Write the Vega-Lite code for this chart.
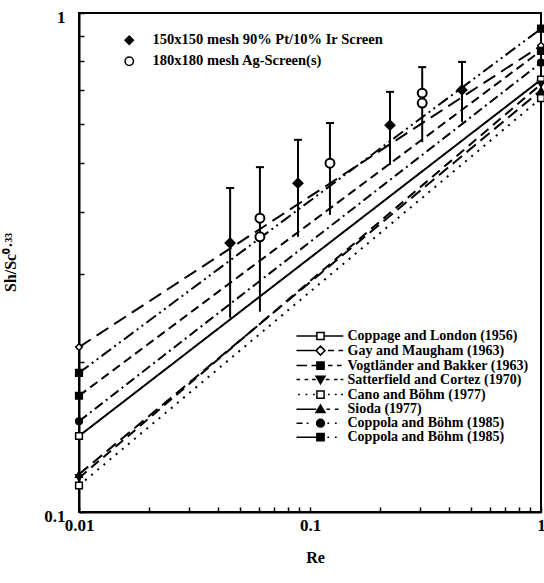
{
  "$schema": "https://vega.github.io/schema/vega-lite/v6.json",
  "width": 462,
  "height": 499,
  "autosize": "none",
  "padding": {"left": 79, "top": 13, "right": 3, "bottom": 71},
  "background": "white",
  "config": {
    "font": "Liberation Serif",
    "view": {"stroke": "black", "strokeWidth": 2},
    "axis": {"grid": false, "domainColor": "black", "domainWidth": 2, "tickColor": "black", "tickWidth": 1.5, "labelColor": "black", "labelFont": "Liberation Serif", "labelFontWeight": "bold", "labelFontSize": 17, "titleFont": "Liberation Serif", "titleFontWeight": "bold", "titleFontSize": 16, "titleColor": "black"},
    "legend": {"labelFont": "Liberation Serif", "labelFontWeight": "bold", "labelFontSize": 14.5, "labelColor": "black", "labelLimit": 400, "padding": 0}
  },
  "datasets": {
    "lines": [
      {"s": "Coppage and London (1956)", "Re": 0.01, "v": 0.142},
      {"s": "Coppage and London (1956)", "Re": 1, "v": 0.735},
      {"s": "Gay and Maugham (1963)", "Re": 0.01, "v": 0.214},
      {"s": "Gay and Maugham (1963)", "Re": 1, "v": 0.86},
      {"s": "Vogtländer and Bakker (1963)", "Re": 0.01, "v": 0.171},
      {"s": "Vogtländer and Bakker (1963)", "Re": 1, "v": 0.84},
      {"s": "Satterfield and Cortez (1970)", "Re": 0.01, "v": 0.117},
      {"s": "Satterfield and Cortez (1970)", "Re": 1, "v": 0.72},
      {"s": "Cano and Böhm (1977)", "Re": 0.01, "v": 0.113},
      {"s": "Cano and Böhm (1977)", "Re": 1, "v": 0.675},
      {"s": "Sioda (1977)", "Re": 0.01, "v": 0.119},
      {"s": "Sioda (1977)", "Re": 1, "v": 0.70},
      {"s": "Coppola and Böhm (1985)#1", "Re": 0.01, "v": 0.152},
      {"s": "Coppola and Böhm (1985)#1", "Re": 1, "v": 0.795},
      {"s": "Coppola and Böhm (1985)#2", "Re": 0.01, "v": 0.19},
      {"s": "Coppola and Böhm (1985)#2", "Re": 1, "v": 0.93}
    ],
    "bars": [
      {"Re": 0.0451, "lo": 0.245, "hi": 0.446},
      {"Re": 0.0607, "lo": 0.252, "hi": 0.491},
      {"Re": 0.0887, "lo": 0.356, "hi": 0.557},
      {"Re": 0.122, "lo": 0.394, "hi": 0.602},
      {"Re": 0.222, "lo": 0.496, "hi": 0.695},
      {"Re": 0.306, "lo": 0.551, "hi": 0.779},
      {"Re": 0.455, "lo": 0.605, "hi": 0.798}
    ],
    "pts": [
      {"screen": "150x150 mesh 90% Pt/10% Ir Screen", "Re": 0.0451, "v": 0.346},
      {"screen": "150x150 mesh 90% Pt/10% Ir Screen", "Re": 0.0887, "v": 0.456},
      {"screen": "150x150 mesh 90% Pt/10% Ir Screen", "Re": 0.222, "v": 0.596},
      {"screen": "150x150 mesh 90% Pt/10% Ir Screen", "Re": 0.455, "v": 0.701},
      {"screen": "180x180 mesh Ag-Screen(s)", "Re": 0.0607, "v": 0.388},
      {"screen": "180x180 mesh Ag-Screen(s)", "Re": 0.0607, "v": 0.356},
      {"screen": "180x180 mesh Ag-Screen(s)", "Re": 0.122, "v": 0.5},
      {"screen": "180x180 mesh Ag-Screen(s)", "Re": 0.306, "v": 0.691},
      {"screen": "180x180 mesh Ag-Screen(s)", "Re": 0.306, "v": 0.66}
    ]
  },
  "layer": [
    {
      "data": {"name": "lines"},
      "mark": {"type": "line", "color": "black", "strokeWidth": 2},
      "encoding": {
        "x": {"field": "Re", "type": "quantitative", "scale": {"type": "log", "domain": [0.01, 1], "nice": false}, "axis": {"title": "Re", "values": [0.01, 0.02, 0.03, 0.04, 0.05, 0.06, 0.07, 0.08, 0.09, 0.1, 0.2, 0.3, 0.4, 0.5, 0.6, 0.7, 0.8, 0.9, 1], "labelExpr": "datum.value == 0.01 ? '0.01' : datum.value == 0.1 ? '0.1' : datum.value == 1 ? '1' : ''", "tickSize": -5, "labelPadding": 10, "labelFlush": false, "labelOverlap": false, "labelBound": false, "titleX": 236, "titleY": 45, "titleBaseline": "middle"}},
        "y": {"field": "v", "type": "quantitative", "scale": {"type": "log", "domain": [0.1, 1], "nice": false}, "axis": {"title": "Sh/Sc⁰·³³", "values": [0.1, 0.2, 0.3, 0.4, 0.5, 0.6, 0.7, 0.8, 0.9, 1], "labelExpr": "datum.value == 0.1 ? '0.1' : datum.value == 1 ? '1' : ''", "tickSize": -5, "labelPadding": 19, "labelOffset": 4, "labelFlush": false, "labelOverlap": false, "labelBound": false, "titleAngle": -90, "titleX": -69, "titleY": 249, "titleAlign": "center", "titleBaseline": "middle"}},
        "strokeDash": {"field": "s", "type": "nominal", "scale": {"domain": ["Coppage and London (1956)", "Gay and Maugham (1963)", "Vogtländer and Bakker (1963)", "Satterfield and Cortez (1970)", "Cano and Böhm (1977)", "Sioda (1977)", "Coppola and Böhm (1985)#1", "Coppola and Böhm (1985)#2"], "range": [[1, 0], [14, 7], [9, 5], [10, 6], [2, 6], [12, 6], [10, 4, 2, 4], [12, 4, 2, 4, 2, 4]]}, "legend": null}
      }
    },
    {
      "data": {"name": "lines"},
      "mark": {"type": "point", "stroke": "black", "strokeWidth": 2, "size": 36, "opacity": 0},
      "encoding": {
        "x": {"field": "Re", "type": "quantitative", "scale": {"type": "log", "domain": [0.01, 1], "nice": false}, "axis": {"title": "Re", "values": [0.01, 0.02, 0.03, 0.04, 0.05, 0.06, 0.07, 0.08, 0.09, 0.1, 0.2, 0.3, 0.4, 0.5, 0.6, 0.7, 0.8, 0.9, 1], "labelExpr": "datum.value == 0.01 ? '0.01' : datum.value == 0.1 ? '0.1' : datum.value == 1 ? '1' : ''", "tickSize": -5, "labelPadding": 10, "labelFlush": false, "labelOverlap": false, "labelBound": false, "titleX": 236, "titleY": 45, "titleBaseline": "middle"}},
        "y": {"field": "v", "type": "quantitative", "scale": {"type": "log", "domain": [0.1, 1], "nice": false}, "axis": {"title": "Sh/Sc⁰·³³", "values": [0.1, 0.2, 0.3, 0.4, 0.5, 0.6, 0.7, 0.8, 0.9, 1], "labelExpr": "datum.value == 0.1 ? '0.1' : datum.value == 1 ? '1' : ''", "tickSize": -5, "labelPadding": 19, "labelOffset": 4, "labelFlush": false, "labelOverlap": false, "labelBound": false, "titleAngle": -90, "titleX": -69, "titleY": 249, "titleAlign": "center", "titleBaseline": "middle"}},
        "shape": {"field": "s", "type": "nominal", "scale": {"domain": ["Coppage and London (1956)", "Gay and Maugham (1963)", "Vogtländer and Bakker (1963)", "Satterfield and Cortez (1970)", "Cano and Böhm (1977)", "Sioda (1977)", "Coppola and Böhm (1985)#1", "Coppola and Böhm (1985)#2"],
          "range": ["M-8,0H-1.2M1.2,0H7.6M-1.2,-1.2H1.2V1.2H-1.2Z", "M-8,0H-1.5M2.5,0H4.5M6,0H7.5M0,-1.5L1.5,0L0,1.5L-1.5,0Z", "M-8,0H-4.5M-3,0H-1.2M2.5,0H4M5.5,0H7M-1.2,-1.2H1.2V1.2H-1.2Z", "M-8,0H-6.8M-5.3,0H-4.1M-2.8,0H-1.6M1.8,0H3M4.5,0H5.7M6.7,0H7.6M-1.5,-1.1H1.5L0,1.4Z", "M-7.5,0H-6.9M-5,0H-4.4M-2.5,0H-1.9M2.5,0H3.1M4.8,0H5.4M6.9,0H7.5M-1.2,-1.2H1.2V1.2H-1.2Z", "M-8,0H-1.4M2,0H3.2M4.8,0H6M-1.5,1.1H1.5L0,-1.4Z", "M-8,0H-6M-4.6,0H-4M2.3,0H2.9M4.8,0H5.4M-1.3,0A1.3,1.3,0,1,0,1.3,0A1.3,1.3,0,1,0,-1.3,0Z", "M-8,0H-1.2M2.3,0H2.9M4.8,0H5.4M-1.2,-1.2H1.2V1.2H-1.2Z"]},
          "legend": {"title": null, "orient": "none", "legendX": 234.5, "legendY": 316, "symbolSize": 36, "symbolOpacity": 1, "labelOffset": 20, "labelFontSize": 14, "rowPadding": -0.4, "labelExpr": "split(datum.label, '#')[0]",
            "encode": {"symbols": {
              "fill": {"value": {"expr": "indexof(['Coppage and London (1956)', 'Gay and Maugham (1963)', 'Cano and Böhm (1977)'], datum.value) >= 0 ? 'white' : 'black'"}},
              "stroke": {"value": "black"},
              "strokeWidth": {"value": 2},
              "opacity": {"value": 1}
            }}}},
        "fill": {"field": "s", "type": "nominal", "scale": {"domain": ["Coppage and London (1956)", "Gay and Maugham (1963)", "Vogtländer and Bakker (1963)", "Satterfield and Cortez (1970)", "Cano and Böhm (1977)", "Sioda (1977)", "Coppola and Böhm (1985)#1", "Coppola and Böhm (1985)#2"], "range": ["white", "white", "black", "black", "white", "black", "black", "black"]}, "legend": null}
      }
    },
    {
      "data": {"name": "lines"},
      "mark": {"type": "point", "stroke": "black", "strokeWidth": 1.5, "size": 45, "opacity": 1},
      "encoding": {
        "x": {"field": "Re", "type": "quantitative", "scale": {"type": "log", "domain": [0.01, 1], "nice": false}, "axis": {"title": "Re", "values": [0.01, 0.02, 0.03, 0.04, 0.05, 0.06, 0.07, 0.08, 0.09, 0.1, 0.2, 0.3, 0.4, 0.5, 0.6, 0.7, 0.8, 0.9, 1], "labelExpr": "datum.value == 0.01 ? '0.01' : datum.value == 0.1 ? '0.1' : datum.value == 1 ? '1' : ''", "tickSize": -5, "labelPadding": 10, "labelFlush": false, "labelOverlap": false, "labelBound": false, "titleX": 236, "titleY": 45, "titleBaseline": "middle"}},
        "y": {"field": "v", "type": "quantitative", "scale": {"type": "log", "domain": [0.1, 1], "nice": false}, "axis": {"title": "Sh/Sc⁰·³³", "values": [0.1, 0.2, 0.3, 0.4, 0.5, 0.6, 0.7, 0.8, 0.9, 1], "labelExpr": "datum.value == 0.1 ? '0.1' : datum.value == 1 ? '1' : ''", "tickSize": -5, "labelPadding": 19, "labelOffset": 4, "labelFlush": false, "labelOverlap": false, "labelBound": false, "titleAngle": -90, "titleX": -69, "titleY": 249, "titleAlign": "center", "titleBaseline": "middle"}},
        "shape": {"field": "s", "type": "nominal", "scale": {"domain": ["Coppage and London (1956)", "Gay and Maugham (1963)", "Vogtländer and Bakker (1963)", "Satterfield and Cortez (1970)", "Cano and Böhm (1977)", "Sioda (1977)", "Coppola and Böhm (1985)#1", "Coppola and Böhm (1985)#2"], "range": ["square", "diamond", "square", "triangle-down", "square", "triangle-up", "circle", "square"]}, "legend": null},
        "fill": {"field": "s", "type": "nominal", "scale": {"domain": ["Coppage and London (1956)", "Gay and Maugham (1963)", "Vogtländer and Bakker (1963)", "Satterfield and Cortez (1970)", "Cano and Böhm (1977)", "Sioda (1977)", "Coppola and Böhm (1985)#1", "Coppola and Böhm (1985)#2"], "range": ["white", "white", "black", "black", "white", "black", "black", "black"]}, "legend": null}
      }
    },
    {
      "data": {"name": "bars"},
      "mark": {"type": "rule", "color": "black", "strokeWidth": 2},
      "encoding": {
        "x": {"field": "Re", "type": "quantitative", "scale": {"type": "log", "domain": [0.01, 1], "nice": false}, "axis": {"title": "Re", "values": [0.01, 0.02, 0.03, 0.04, 0.05, 0.06, 0.07, 0.08, 0.09, 0.1, 0.2, 0.3, 0.4, 0.5, 0.6, 0.7, 0.8, 0.9, 1], "labelExpr": "datum.value == 0.01 ? '0.01' : datum.value == 0.1 ? '0.1' : datum.value == 1 ? '1' : ''", "tickSize": -5, "labelPadding": 10, "labelFlush": false, "labelOverlap": false, "labelBound": false, "titleX": 236, "titleY": 45, "titleBaseline": "middle"}},
        "y": {"field": "lo", "type": "quantitative", "scale": {"type": "log", "domain": [0.1, 1], "nice": false}, "axis": {"title": "Sh/Sc⁰·³³", "values": [0.1, 0.2, 0.3, 0.4, 0.5, 0.6, 0.7, 0.8, 0.9, 1], "labelExpr": "datum.value == 0.1 ? '0.1' : datum.value == 1 ? '1' : ''", "tickSize": -5, "labelPadding": 19, "labelOffset": 4, "labelFlush": false, "labelOverlap": false, "labelBound": false, "titleAngle": -90, "titleX": -69, "titleY": 249, "titleAlign": "center", "titleBaseline": "middle"}},
        "y2": {"field": "hi"}
      }
    },
    {
      "data": {"name": "bars"},
      "mark": {"type": "tick", "orient": "horizontal", "size": 8, "thickness": 2, "color": "black", "opacity": 1},
      "encoding": {
        "x": {"field": "Re", "type": "quantitative", "scale": {"type": "log", "domain": [0.01, 1], "nice": false}, "axis": {"title": "Re", "values": [0.01, 0.02, 0.03, 0.04, 0.05, 0.06, 0.07, 0.08, 0.09, 0.1, 0.2, 0.3, 0.4, 0.5, 0.6, 0.7, 0.8, 0.9, 1], "labelExpr": "datum.value == 0.01 ? '0.01' : datum.value == 0.1 ? '0.1' : datum.value == 1 ? '1' : ''", "tickSize": -5, "labelPadding": 10, "labelFlush": false, "labelOverlap": false, "labelBound": false, "titleX": 236, "titleY": 45, "titleBaseline": "middle"}},
        "y": {"field": "hi", "type": "quantitative", "scale": {"type": "log", "domain": [0.1, 1], "nice": false}, "axis": {"title": "Sh/Sc⁰·³³", "values": [0.1, 0.2, 0.3, 0.4, 0.5, 0.6, 0.7, 0.8, 0.9, 1], "labelExpr": "datum.value == 0.1 ? '0.1' : datum.value == 1 ? '1' : ''", "tickSize": -5, "labelPadding": 19, "labelOffset": 4, "labelFlush": false, "labelOverlap": false, "labelBound": false, "titleAngle": -90, "titleX": -69, "titleY": 249, "titleAlign": "center", "titleBaseline": "middle"}}
      }
    },
    {
      "data": {"name": "pts"},
      "mark": {"type": "point", "stroke": "black", "strokeWidth": 2, "size": 80, "opacity": 1},
      "encoding": {
        "x": {"field": "Re", "type": "quantitative", "scale": {"type": "log", "domain": [0.01, 1], "nice": false}, "axis": {"title": "Re", "values": [0.01, 0.02, 0.03, 0.04, 0.05, 0.06, 0.07, 0.08, 0.09, 0.1, 0.2, 0.3, 0.4, 0.5, 0.6, 0.7, 0.8, 0.9, 1], "labelExpr": "datum.value == 0.01 ? '0.01' : datum.value == 0.1 ? '0.1' : datum.value == 1 ? '1' : ''", "tickSize": -5, "labelPadding": 10, "labelFlush": false, "labelOverlap": false, "labelBound": false, "titleX": 236, "titleY": 45, "titleBaseline": "middle"}},
        "y": {"field": "v", "type": "quantitative", "scale": {"type": "log", "domain": [0.1, 1], "nice": false}, "axis": {"title": "Sh/Sc⁰·³³", "values": [0.1, 0.2, 0.3, 0.4, 0.5, 0.6, 0.7, 0.8, 0.9, 1], "labelExpr": "datum.value == 0.1 ? '0.1' : datum.value == 1 ? '1' : ''", "tickSize": -5, "labelPadding": 19, "labelOffset": 4, "labelFlush": false, "labelOverlap": false, "labelBound": false, "titleAngle": -90, "titleX": -69, "titleY": 249, "titleAlign": "center", "titleBaseline": "middle"}},
        "shape": {"field": "screen", "type": "nominal", "scale": {"domain": ["150x150 mesh 90% Pt/10% Ir Screen", "180x180 mesh Ag-Screen(s)"], "range": ["diamond", "circle"]},
          "legend": {"title": null, "orient": "none", "legendX": 43, "legendY": 20, "symbolSize": 70, "labelOffset": 16, "rowPadding": 5,
            "encode": {"symbols": {
              "fill": {"value": {"expr": "datum.value == '180x180 mesh Ag-Screen(s)' ? 'white' : 'black'"}},
              "stroke": {"value": "black"},
              "strokeWidth": {"value": 2},
              "opacity": {"value": 1}
            }}}},
        "fill": {"field": "screen", "type": "nominal", "scale": {"domain": ["150x150 mesh 90% Pt/10% Ir Screen", "180x180 mesh Ag-Screen(s)"], "range": ["black", "white"]}, "legend": null}
      }
    }
  ],
  "resolve": {"scale": {"shape": "independent", "fill": "independent"}}
}
